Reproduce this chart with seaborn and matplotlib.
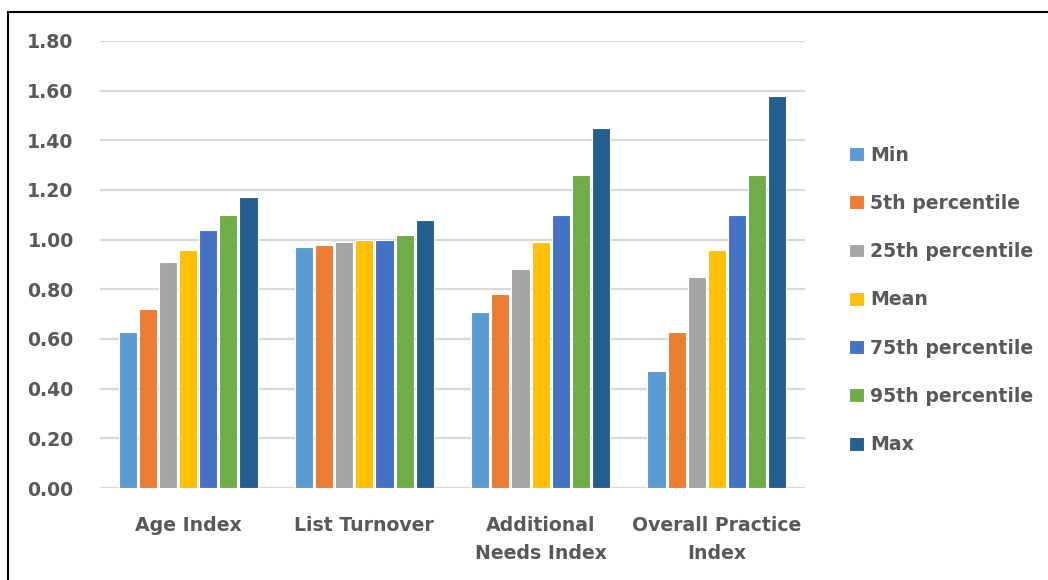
import matplotlib
matplotlib.use("Agg")
import matplotlib.pyplot as plt
from matplotlib.patches import Rectangle
import seaborn as sns
import pandas as pd

categories = ["Age Index", "List Turnover", "Additional\nNeeds Index", "Overall Practice\nIndex"]
series = ["Min", "5th percentile", "25th percentile", "Mean",
          "75th percentile", "95th percentile", "Max"]
v_min = [0.63, 0.97, 0.71, 0.47]
v_p5 = [0.72, 0.98, 0.78, 0.63]
v_p25 = [0.91, 0.99, 0.88, 0.85]
v_mean = [0.96, 1.00, 0.99, 0.96]
v_p75 = [1.04, 1.00, 1.10, 1.10]
v_p95 = [1.10, 1.02, 1.26, 1.26]
v_max = [1.17, 1.08, 1.45, 1.58]
values = [v_min, v_p5, v_p25, v_mean, v_p75, v_p95, v_max]
colors = ["#5B9BD5", "#ED7D31", "#A5A5A5", "#FFC000", "#4472C4", "#70AD47", "#255E91"]

rows = []
for s, vals in zip(series, values):
    for c, v in zip(categories, vals):
        rows.append({"category": c, "series": s, "value": v})
df = pd.DataFrame(rows)

sns.set_theme(style="white")
plt.rcParams["font.family"] = ["DejaVu Sans"]
plt.rcParams["font.weight"] = "bold"

FS = 13.6
text_color = "#595959"
fig = plt.figure(figsize=(10.48, 5.80), dpi=100)
ax = fig.add_axes([100/1048, 92/580, 705/1048, 447/580])

sns.barplot(data=df, x="category", y="value", hue="series", order=categories,
            hue_order=series, palette=colors, saturation=1, width=0.8, gap=0.1,
            edgecolor="white", linewidth=0.8, ax=ax, legend=True)

ax.set_ylim(0, 1.8)
ax.set_yticks([i * 0.2 for i in range(10)])
ax.set_yticklabels([f"{i * 0.2:.2f}" for i in range(10)])
ax.yaxis.grid(True, color="#D9D9D9", linewidth=1.6)
ax.set_axisbelow(True)
for sp in ax.spines.values():
    sp.set_visible(False)
ax.set_xlabel("")
ax.set_ylabel("")
ax.tick_params(axis="y", length=0, pad=19, labelsize=FS, labelcolor=text_color)
ax.tick_params(axis="x", length=0, pad=20, labelsize=FS, labelcolor=text_color)
for lbl in ax.get_xticklabels() + ax.get_yticklabels():
    lbl.set_fontweight("bold")
for lbl in ax.get_xticklabels():
    lbl.set_linespacing(1.6)

leg = ax.legend(loc="center left", bbox_to_anchor=(840/1048, 0.483),
                bbox_transform=fig.transFigure, frameon=False,
                prop={"size": FS, "weight": "bold"},
                handlelength=0.75, handleheight=0.75, handletextpad=0.35,
                labelspacing=1.55, borderpad=0)
for t in leg.get_texts():
    t.set_color(text_color)

# outer frame (top and left edges visible)
fig.patches.append(Rectangle((8/1048, -0.1), 1.2, 1.1 - 11.5/580,
                             transform=fig.transFigure, fill=False,
                             edgecolor="black", linewidth=1.5, zorder=10))

fig.savefig("out.png", dpi=100)
